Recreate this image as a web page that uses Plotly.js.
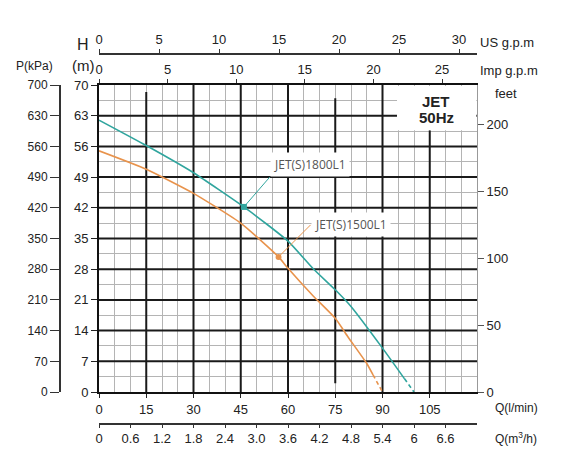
<!DOCTYPE html>
<html>
<head>
<meta charset="utf-8">
<script src="https://cdn.plot.ly/plotly-3.0.1.min.js"></script>
<style>
  html, body { margin: 0; padding: 0; background: #fff; }
  #myDiv { width: 570px; height: 466px; }
</style>
</head>
<body>
<div id="myDiv"></div>
<script>
// pump curves, Q in l/min, H in m
let q1800 = [0, 15, 30, 46, 60, 68, 75, 80, 90, 97];
let h1800 = [62, 56.2, 50, 42.2, 34.4, 28.1, 23.3, 19.5, 10, 3];
let q1800Tail = [97, 100];
let h1800Tail = [3, 0];

let q1500 = [0, 15, 30, 45, 57, 60, 68, 75, 79, 85, 87];
let h1500 = [55, 50.8, 45.3, 38.5, 30.8, 28.2, 21.9, 16.8, 12.6, 6.5, 3.9];
let q1500Tail = [87, 90];
let h1500Tail = [3.9, 0];

// labelled points
let mark1800 = [46, 42.2];
let mark1500 = [57, 30.8];

// tick labels
let qTicks = [0, 15, 30, 45, 60, 75, 90, 105];
let hTicks = [0, 7, 14, 21, 28, 35, 42, 49, 56, 63, 70];
let pTicks = [0, 70, 140, 210, 280, 350, 420, 490, 560, 630, 700];
let m3Ticks = [0, 0.6, 1.2, 1.8, 2.4, 3.0, 3.6, 4.2, 4.8, 5.4, 6, 6.6];
let m3Text = ['0', '0.6', '1.2', '1.8', '2.4', '3.0', '3.6', '4.2', '4.8', '5.4', '6', '6.6'];

const teal = '#30a59e';
const orange = '#e8934c';
const W = 570, H = 466;
const px = v => v / W;
const py = v => 1 - v / H;
const font = 'Liberation Sans, Arial, sans-serif';

let traces = [
  {x: q1800, y: h1800, mode: 'lines', line: {color: teal, width: 1.6, shape: 'spline', smoothing: 0.5}, hoverinfo: 'skip'},
  {x: q1800Tail, y: h1800Tail, mode: 'lines', line: {color: teal, width: 1.6, dash: '4px,3px'}, hoverinfo: 'skip'},
  {x: q1500, y: h1500, mode: 'lines', line: {color: orange, width: 1.6, shape: 'spline', smoothing: 0.5}, hoverinfo: 'skip'},
  {x: q1500Tail, y: h1500Tail, mode: 'lines', line: {color: orange, width: 1.6, dash: '4px,3px'}, hoverinfo: 'skip'},
  {x: [mark1800[0]], y: [mark1800[1]], mode: 'markers', marker: {color: teal, size: 6, symbol: 'square'}, hoverinfo: 'skip'},
  {x: [mark1500[0]], y: [mark1500[1]], mode: 'markers', marker: {color: orange, size: 6}, hoverinfo: 'skip'}
];
// hollow traces so the extra unit scales get drawn
[['x2', 'y'], ['x3', 'y'], ['x4', 'y'], ['x', 'y2'], ['x', 'y3']].forEach(p => {
  traces.push({x: [null], y: [null], xaxis: p[0], yaxis: p[1], mode: 'lines', hoverinfo: 'skip'});
});

// heavy grid lines, some of them stop short like on the sheet
let heavy = '#1a1a1a';
let shapes = [];
let vLines = [[15, 0, 68.4], [30, 0, 70], [45, 0, 70], [60, 0, 70], [75, 2, 67], [90, 0, 70], [105, 0, 59.7]];
vLines.forEach(v => shapes.push({type: 'line', xref: 'x', yref: 'y', x0: v[0], x1: v[0], y0: v[1], y1: v[2],
  line: {color: heavy, width: 2}, layer: 'between'}));
for (let h = 7; h < 70; h += 7) {
  shapes.push({type: 'line', xref: 'x', yref: 'y', x0: 0, x1: 120, y0: h, y1: h,
    line: {color: heavy, width: 2}, layer: 'between'});
}
// white box for the model tag
shapes.push({type: 'rect', xref: 'x', yref: 'y', x0: 94.6, x1: 119.8, y0: 59.7, y1: 69.8,
  fillcolor: '#fff', line: {width: 0}, layer: 'between'});

let tickFont = {family: font, size: 13, color: '#222'};

function note(x, y, text, size, anchor) {
  return {xref: 'paper', yref: 'paper', x: px(x), y: py(y), text: text, showarrow: false,
    xanchor: anchor || 'center', yanchor: 'middle', font: {family: font, size: size, color: '#222'}};
}

let layout = {
  width: W, height: H,
  margin: {l: 0, r: 0, t: 0, b: 0, pad: 0},
  paper_bgcolor: '#fff', plot_bgcolor: '#fff',
  showlegend: false,
  xaxis: {
    domain: [px(99), px(477)], range: [0, 120], tickmode: 'array', tickvals: qTicks,
    showgrid: false, zeroline: false, showline: true, linecolor: '#111', linewidth: 2,
    ticks: 'outside', ticklen: 4, tickcolor: '#222', tickfont: tickFont,
    minor: {tickmode: 'linear', tick0: 0, dtick: 5, showgrid: true, gridcolor: '#b4b4b4', gridwidth: 1, ticks: ''}
  },
  yaxis: {
    domain: [py(392), py(85)], range: [0, 70], tickmode: 'array', tickvals: hTicks,
    showgrid: false, zeroline: false, showline: true, linecolor: '#111', linewidth: 2,
    ticks: 'outside', ticklen: 6, tickcolor: '#222', tickfont: tickFont,
    minor: {tickmode: 'linear', tick0: 0, dtick: 3.5, showgrid: true, gridcolor: '#b4b4b4', gridwidth: 1, ticks: ''}
  },
  xaxis2: {
    visible: true, overlaying: 'x', anchor: 'free', position: py(53), side: 'top', range: [0, 31.5], dtick: 5,
    showgrid: false, zeroline: false, showline: true, linecolor: '#333', linewidth: 1.5,
    ticks: 'outside', ticklen: 4, tickcolor: '#333', tickfont: tickFont
  },
  xaxis3: {
    visible: true, overlaying: 'x', anchor: 'y', side: 'top', range: [0, 27.55], dtick: 5,
    showgrid: false, zeroline: false, showline: true, linecolor: '#111', linewidth: 2,
    ticks: 'outside', ticklen: 4, tickcolor: '#333', tickfont: tickFont
  },
  xaxis4: {
    visible: true, overlaying: 'x', anchor: 'free', position: py(423), side: 'bottom', range: [0, 7.2],
    tickmode: 'array', tickvals: m3Ticks, ticktext: m3Text,
    showgrid: false, zeroline: false, showline: true, linecolor: '#333', linewidth: 1.5,
    ticks: 'outside', ticklen: 3, tickcolor: '#333', tickfont: tickFont
  },
  yaxis2: {
    visible: true, overlaying: 'y', anchor: 'free', position: px(59), side: 'left', range: [0, 700],
    tickmode: 'array', tickvals: pTicks,
    showgrid: false, zeroline: false, showline: true, linecolor: '#333', linewidth: 1.5,
    ticks: 'outside', ticklen: 9, tickcolor: '#333', tickfont: {family: font, size: 12, color: '#222'}
  },
  yaxis3: {
    visible: true, overlaying: 'y', anchor: 'x', side: 'right', range: [0, 70 / 0.3048], dtick: 50,
    showgrid: false, zeroline: false, showline: true, linecolor: '#999', linewidth: 1,
    ticks: 'outside', ticklen: 6, tickcolor: '#555', tickfont: tickFont
  },
  shapes: shapes,
  annotations: [
    {xref: 'x', yref: 'y', x: mark1800[0], y: mark1800[1], text: 'JET(S)1800L1', showarrow: true,
      arrowhead: 0, arrowwidth: 1, arrowcolor: teal, ax: 26, ay: -30, xanchor: 'left', yanchor: 'bottom',
      bgcolor: '#fff', borderpad: 3, font: {family: 'Open Sans, sans-serif', size: 12, color: '#555'}},
    {xref: 'x', yref: 'y', x: mark1500[0], y: mark1500[1], text: 'JET(S)1500L1', showarrow: true,
      arrowhead: 0, arrowwidth: 1, arrowcolor: orange, ax: 32, ay: -32, xanchor: 'left', yanchor: 'middle',
      bgcolor: '#fff', borderpad: 3, font: {family: 'Open Sans, sans-serif', size: 12, color: '#555'}},
    note(436, 102, '<b>JET</b>', 15),
    note(436, 117, '<b>50Hz</b>', 15),
    note(34, 66, 'P(kPa)', 12),
    note(83, 45, 'H', 16),
    note(83, 66, '(m)', 15),
    note(478, 42, 'US g.p.m', 13, 'left'),
    note(478, 70, 'Imp g.p.m', 13, 'left'),
    note(493, 93, 'feet', 13, 'left'),
    note(493, 408, 'Q(l/min)', 12, 'left'),
    note(493, 438, 'Q(m<sup>3</sup>/h)', 12, 'left')
  ]
};

Plotly.newPlot('myDiv', traces, layout, {staticPlot: true, displayModeBar: false});
</script>
</body>
</html>
